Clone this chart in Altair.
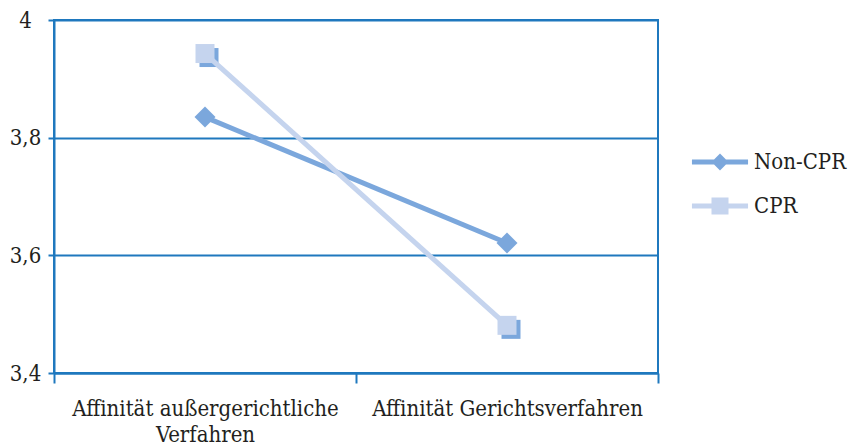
import altair as alt
import pandas as pd

# Chart data
categories = ["Affinität außergerichtliche Verfahren", "Affinität Gerichtsverfahren"]
series_names = ["Non-CPR", "CPR"]
non_cpr_values = [3.835, 3.621]
cpr_values = [3.943, 3.481]
y_tick_values = [3.4, 3.6, 3.8, 4.0]

# Styling
series_colors = ["#7BA7DC", "#C5D4EE"]
axis_blue = "#1F78BE"
font = "DejaVu Serif Condensed, DejaVu Serif, serif"
text_color = "#231F20"

rows = []
for name, values in zip(series_names, [non_cpr_values, cpr_values]):
    for cat, val in zip(categories, values):
        rows.append({"Kategorie": cat, "Gruppe": name, "Wert": val})
df = pd.DataFrame(rows)

# Legend symbols: a line segment with the series marker in the middle
diamond_line = "M-3.3,-0.3H-0.7L0,-1L0.7,-0.3H3.3V0.3H0.7L0,1L-0.7,0.3H-3.3Z"
square_line = "M-3.3,-0.3H-1V-1H1V-0.3H3.3V0.3H1V1H-1V0.3H-3.3Z"

x_enc = alt.X(
    "Kategorie:N",
    sort=categories,
    scale=alt.Scale(type="band", paddingInner=0, paddingOuter=0),
    axis=alt.Axis(
        title=None,
        labelAngle=0,
        labelFont=font,
        labelFontSize=22,
        labelColor=text_color,
        labelLimit=400,
        tickBand="extent",
        tickSize=10,
        tickWidth=2,
        tickColor=axis_blue,
        domainColor=axis_blue,
        domainWidth=2,
        labelPadding=15,
        labelLineHeight=26,
        labelExpr="datum.value == 'Affinität außergerichtliche Verfahren' ? "
                  "['Affinität außergerichtliche', 'Verfahren'] : datum.label",
    ),
)

y_enc = alt.Y(
    "Wert:Q",
    scale=alt.Scale(domain=[3.4, 4.0], nice=False, zero=False),
    axis=alt.Axis(
        title=None,
        values=y_tick_values,
        labelExpr="replace(format(datum.value, '.1~f'), '.', ',')",
        labelFont=font,
        labelFontSize=22,
        labelColor=text_color,
        grid=True,
        gridColor=axis_blue,
        gridWidth=1.8,
        tickSize=6,
        tickWidth=2,
        tickColor=axis_blue,
        domainColor=axis_blue,
        domainWidth=2,
        labelAlign="center",
        labelBaseline="middle",
        labelPadding=23,
    ),
)

legend = alt.Legend(
    title=None, orient="none", legendX=655, legendY=131, padding=0,
    symbolSize=289, symbolOpacity=1, symbolStrokeWidth=0,
    labelFont=font, labelFontSize=22, labelColor=text_color,
    labelOffset=23, rowPadding=22,
)
color_enc = alt.Color("Gruppe:N", scale=alt.Scale(domain=series_names, range=series_colors), legend=legend)
base = alt.Chart(df)


def line_for(name):
    return base.transform_filter(alt.datum.Gruppe == name).mark_line(strokeWidth=5).encode(
        x=x_enc, y=y_enc, color=color_enc
    )


def points_for(name, shape, size):
    return base.transform_filter(alt.datum.Gruppe == name).mark_point(
        filled=True, opacity=1, shape=shape, size=size
    ).encode(x=x_enc, y=y_enc, color=color_enc)


shadow = base.transform_filter(alt.datum.Gruppe == "CPR").mark_point(
    filled=True, opacity=1, shape="square", size=361, xOffset=4, yOffset=4, color=series_colors[0]
).encode(x=x_enc, y=y_enc)

# Invisible layer that carries the legend (line + marker symbols)
legend_layer = base.mark_point(filled=True, opacity=0).encode(
    x=x_enc,
    y=y_enc,
    color=color_enc,
    shape=alt.Shape(
        "Gruppe:N",
        scale=alt.Scale(domain=series_names, range=[diamond_line, square_line]),
        legend=legend,
    ),
)

chart = alt.layer(
    line_for("Non-CPR"),
    shadow,
    line_for("CPR"),
    points_for("Non-CPR", "diamond", 440),
    points_for("CPR", "square", 361),
    legend_layer,
).properties(
    width=604,
    height=353,
    autosize="none",
    padding={"left": 54, "top": 20, "right": 199, "bottom": 73},
    background="white",
).configure_view(
    stroke=axis_blue, strokeWidth=2
)

chart.save("out.html", embed_options={"renderer": "svg", "actions": False})
